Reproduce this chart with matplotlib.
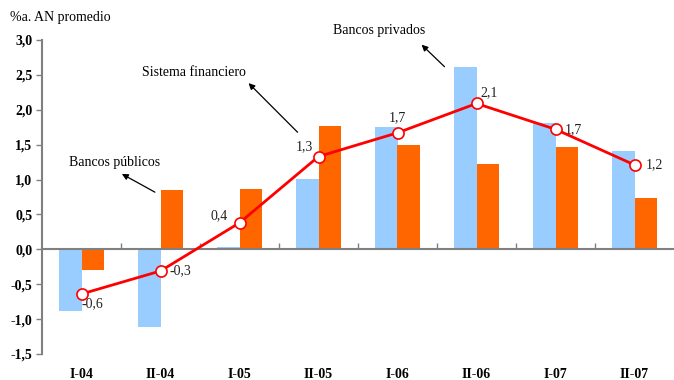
import matplotlib
matplotlib.use('Agg')
import matplotlib.pyplot as plt
import numpy as np
import matplotlib.transforms as mtransforms

plt.rcParams['font.family'] = ['Liberation Serif', 'DejaVu Serif']

periods = ['I-04', 'II-04', 'I-05', 'II-05', 'I-06', 'II-06', 'I-07', 'II-07']
privados = [-0.89, -1.12, 0.03, 1.01, 1.76, 2.62, 1.81, 1.41]
publicos = [-0.29, 0.85, 0.87, 1.77, 1.49, 1.22, 1.47, 0.74]
sistema = [-0.64, -0.31, 0.38, 1.33, 1.67, 2.09, 1.72, 1.21]
sistema_labels = ['-0,6', '-0,3', '0,4', '1,3', '1,7', '2,1', '1,7', '1,2']
yticks = [-1.5, -1.0, -0.5, 0.0, 0.5, 1.0, 1.5, 2.0, 2.5, 3.0]

x = np.arange(len(periods))
w = 0.29

fig = plt.figure(figsize=(6.74, 3.80), dpi=100, facecolor='white')
ax = fig.add_axes([42/674, 26/380, 632/674, 314/380])

ax.bar(x - w/2, privados, w, color='#99CCFF', zorder=2)
ax.bar(x + w/2, publicos, w, color='#FF6600', zorder=2)
ax.plot(x, sistema, color='#FF0000', linewidth=2, marker='o', markersize=8,
        markerfacecolor='white', markeredgecolor='#FF0000', markeredgewidth=1.2, zorder=4)

# value labels around the line points (offsets in points)
offsets = [(8, -7), (14, 0), (-15, 5), (-10, 7), (0, 11), (9, 8), (13, 0), (14, 0)]
for xi, yi, lab, (dx, dy) in zip(x, sistema, sistema_labels, offsets):
    ax.annotate(lab, (xi, yi), xytext=(dx, dy), textcoords='offset points',
                ha='center', va='center', fontsize=10, color='#222222')

ax.set_xlim(-0.5, len(periods) - 0.5)
ax.set_ylim(-1.5, 3.0)

ax.spines['top'].set_visible(False)
ax.spines['right'].set_visible(False)
ax.spines['left'].set_color('#808080')
ax.spines['left'].set_linewidth(1.5)
ax.spines['bottom'].set_position(('data', 0))
ax.spines['bottom'].set_color('#808080')
ax.spines['bottom'].set_linewidth(1.5)
ax.spines['bottom'].set_zorder(3)

ax.set_yticks(yticks)
ax.set_yticklabels([f'{v:.1f}'.replace('.', ',') for v in yticks],
                   fontweight='bold', fontsize=10)
ax.tick_params(axis='y', direction='out', length=4, color='#808080', width=1, pad=3)

ax.set_xticks(np.arange(0.5, len(periods) - 0.5, 1.0))
ax.set_xticklabels([])
ax.tick_params(axis='x', direction='in', length=4, color='#808080', width=1)

trans = mtransforms.blended_transform_factory(ax.transData, ax.transAxes)
for xi, lab in zip(x, periods):
    ax.text(xi, -0.045, lab, transform=trans, ha='center', va='top',
            fontweight='bold', fontsize=10)

arrowprops = dict(arrowstyle='-|>', color='black', lw=0.9, mutation_scale=9)
ax.annotate('', xy=(2.09, 2.41), xytext=(2.76, 1.65), arrowprops=arrowprops)
ax.text(1.42, 2.54, 'Sistema financiero', ha='center', va='center', fontsize=10)
ax.annotate('', xy=(4.28, 2.96), xytext=(4.62, 2.59), arrowprops=arrowprops,
            annotation_clip=False)
ax.text(3.77, 3.13, 'Bancos privados', ha='center', va='center', fontsize=10, clip_on=False)
ax.annotate('', xy=(0.48, 1.10), xytext=(0.96, 0.80), arrowprops=arrowprops)
ax.text(0.42, 1.25, 'Bancos públicos', ha='center', va='center', fontsize=10)

fig.text(10/674, 1 - 18/380, '%a. AN promedio', ha='left', va='center', fontsize=10)

fig.savefig('out.png', dpi=100, facecolor='white')
